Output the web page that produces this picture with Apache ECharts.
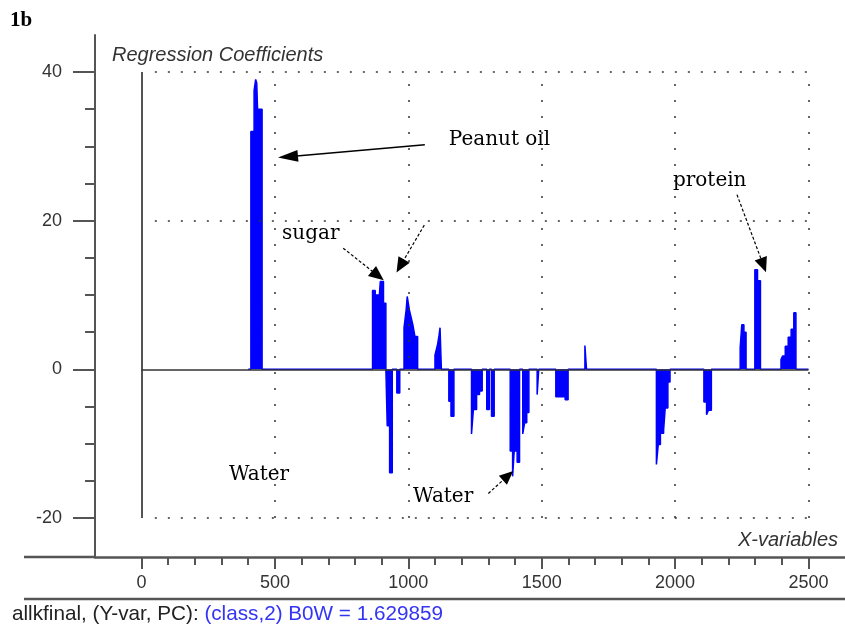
<!DOCTYPE html>
<html>
<head>
<meta charset="utf-8">
<script src="https://cdn.jsdelivr.net/npm/echarts@6/dist/echarts.min.js"></script>
<style>
  html, body { margin: 0; padding: 0; background: #fff; }
  #chart { width: 845px; height: 628px; }
</style>
</head>
<body>
<div id="chart"></div>
<script>
// regression coefficients per x-variable ([x, coef])
const baseStart = [[400, 0]]
const peanutBand = [[410, 0], [410, 32], [422, 32], [422, 37.5], [428, 39], [432, 38.5], [435, 35], [452, 35], [452, 0]]
const sugarBand = [[866, 0], [866, 10.6], [876, 10.6], [876, 10], [890, 10], [890, 9.1], [895, 9.1], [895, 11.8], [907, 11.8], [907, 8.9], [916, 8.9], [916, 0]]
const negBand1 = [[921, 0], [921, -7.6], [930, -7.6], [930, -13.9], [940, -13.9], [940, 0], [957, 0], [957, -3.2], [968, -3.2], [968, 0]]
const posBand2 = [[984, 0], [984, 5.6], [990, 5.6], [992, 8], [996, 9.8], [1000, 9.6], [1004, 8], [1010, 7.1], [1017, 6], [1025, 4.4], [1035, 4.4], [1035, 0]]
const posBand3 = [[1100, 0], [1100, 1.9], [1106, 1.9], [1110, 3.4], [1115, 4.5], [1119, 5.6], [1124, 5.6], [1124, 0]]
const negBand2 = [[1152, 0], [1152, -4.3], [1160, -4.3], [1160, -6.3], [1171, -6.3], [1171, 0]]
const negBand3 = [[1237, 0], [1237, -8.7], [1244, -8.7], [1244, -5.4], [1256, -5.4], [1256, -3.4], [1267, -3.4], [1267, -2.9], [1277, -2.9], [1277, 0],
  [1294, 0], [1294, -5.4], [1304, -5.4], [1304, 0], [1312, 0], [1312, -6.3], [1322, -6.3], [1322, 0]]
const waterBand = [[1382, 0], [1382, -11], [1391, -11], [1391, -14.4], [1397, -14.4], [1397, -11], [1408, -11], [1408, -12.5], [1417, -12.5], [1417, 0],
  [1429, 0], [1429, -8.7], [1436, -8.7], [1436, -7.2], [1444, -7.2], [1444, -5.8], [1452, -5.8], [1452, 0]]
const negBand4 = [[1483, 0], [1483, -3.4], [1489, -3.4], [1489, 0], [1553, 0], [1553, -3.7], [1588, -3.7], [1588, -4.1], [1599, -4.1], [1599, 0]]
const posBand4 = [[1662, 0], [1662, 3.2], [1668, 3.2], [1668, 0]]
const negBand5 = [[1930, 0], [1930, -12.8], [1937, -12.8], [1937, -10.1], [1945, -10.1], [1945, -8.6], [1957, -8.6], [1957, -8.2], [1963, -8.2], [1963, -5.2], [1973, -5.2], [1973, -1.7], [1981, -1.7], [1981, 0]]
const negBand6 = [[2108, 0], [2108, -4.4], [2118, -4.4], [2118, -6.1], [2125, -6.1], [2125, -5.5], [2136, -5.5], [2136, 0]]
const posBand5 = [[2244, 0], [2244, 2.9], [2250, 2.9], [2250, 6], [2258, 6], [2258, 5], [2266, 5], [2266, 0]]
const proteinBand = [[2299, 0], [2299, 13.4], [2309, 13.4], [2309, 11.9], [2320, 11.9], [2320, 0]]
const posBand6 = [[2397, 0], [2397, 1.3], [2403, 1.3], [2403, 1.8], [2413, 1.8], [2413, 3.1], [2424, 3.1], [2424, 4.3], [2435, 4.3], [2435, 5.4], [2445, 5.4], [2445, 7.6], [2453, 7.6], [2453, 0]]
const baseEnd = [[2500, 0]]

const xMajorTicks = [0, 500, 1000, 1500, 2000, 2500]
const xMinorTicks = [100, 200, 300, 400, 600, 700, 800, 900, 1100, 1200, 1300, 1400, 1600, 1700, 1800, 1900, 2100, 2200, 2300, 2400]
const yMajorTicks = [-20, 0, 20, 40]
const yMinorTicks = [-15, -10, -5, 5, 10, 15, 25, 30, 35]

const coefData = [].concat(baseStart, peanutBand, sugarBand, negBand1, posBand2, posBand3, negBand2, negBand3,
  waterBand, negBand4, posBand4, negBand5, negBand6, posBand5, proteinBand, posBand6, baseEnd)

const axisColor = '#555'
const tickFont = 'Liberation Sans, sans-serif'
const serif = 'DejaVu Serif, serif'

const dotH = { color: '#333', width: 1.5, type: [2, 11] }
const dotV = { color: '#333', width: 1.5, type: [2, 14] }

const guideLines = [
  [{ coord: [50, 40], lineStyle: dotH }, { coord: [2500, 40] }],
  [{ coord: [50, 20], lineStyle: dotH }, { coord: [2500, 20] }],
  [{ coord: [50, -20], lineStyle: dotH }, { coord: [2500, -20] }],
  [{ coord: [500, -20], lineStyle: dotV }, { coord: [500, 40] }],
  [{ coord: [1000, -20], lineStyle: dotV }, { coord: [1000, 40] }],
  [{ coord: [1500, -20], lineStyle: dotV }, { coord: [1500, 40] }],
  [{ coord: [2000, -20], lineStyle: dotV }, { coord: [2000, 40] }],
  [{ coord: [2500, -20], lineStyle: dotV }, { coord: [2500, 40] }],
  [{ coord: [0, -20], lineStyle: { color: axisColor, width: 2, type: 'solid' } }, { coord: [0, 40] }],
  [{ coord: [0, 0], lineStyle: { color: '#333', width: 1.5, type: 'solid' } }, { coord: [2500, 0] }],
]

const arrowSolid = { color: '#000', width: 1.5, type: 'solid' }
const arrowDash = { color: '#000', width: 1.2, type: [3, 2] }
const arrows = [
  [{ coord: [1062, 30.2], symbol: 'none', lineStyle: arrowSolid }, { coord: [549, 28.6], symbol: 'triangle', symbolSize: [12, 20] }],
  [{ coord: [756, 16.3], symbol: 'none', lineStyle: arrowDash }, { coord: [886, 12.6], symbol: 'triangle', symbolSize: [13, 15] }],
  [{ coord: [1060, 19.4], symbol: 'none', lineStyle: arrowDash }, { coord: [970, 13.9], symbol: 'triangle', symbolSize: [13, 15] }],
  [{ coord: [2232, 23.5], symbol: 'none', lineStyle: arrowDash }, { coord: [2331, 14.0], symbol: 'triangle', symbolSize: [13, 15] }],
  [{ coord: [1300, -16.7], symbol: 'none', lineStyle: arrowDash }, { coord: [1374, -14.3], symbol: 'triangle', symbolSize: [12, 14] }],
]

const notes = [
  { name: 'Peanut oil', coord: [1152, 30.9] },
  { name: 'sugar', coord: [527, 18.3] },
  { name: 'protein', coord: [1992, 25.3] },
  { name: 'Water', coord: [328, -14.2] },
  { name: 'Water', coord: [1018, -17.2] },
]

const chart = echarts.init(document.getElementById('chart'))

chart.setOption({
  animation: false,
  grid: { left: 95, right: 0, top: 35, bottom: 71 },
  xAxis: [
    {
      type: 'value', min: -174.3, max: 2636.9,
      axisLine: { onZero: false, lineStyle: { color: axisColor, width: 2.5 } },
      axisTick: { customValues: xMajorTicks, length: 12, lineStyle: { color: axisColor, width: 2 } },
      axisLabel: { customValues: xMajorTicks, margin: 17, color: '#333', fontFamily: tickFont, fontSize: 18, formatter: (v) => String(v) },
      splitLine: { show: false },
    },
    {
      type: 'value', min: -174.3, max: 2636.9, position: 'bottom',
      axisLine: { show: false, onZero: false },
      axisTick: { customValues: xMinorTicks, length: 8, lineStyle: { color: axisColor, width: 2 } },
      axisLabel: { show: false },
      splitLine: { show: false },
    },
  ],
  yAxis: [
    {
      type: 'value', min: -25.25, max: 44.98,
      axisLine: { onZero: false, lineStyle: { color: axisColor, width: 2 } },
      axisTick: { customValues: yMajorTicks, length: 22, lineStyle: { color: axisColor, width: 2 } },
      axisLabel: { customValues: yMajorTicks, margin: 33, color: '#333', fontFamily: tickFont, fontSize: 18, formatter: (v) => String(v) },
      splitLine: { show: false },
    },
    {
      type: 'value', min: -25.25, max: 44.98, position: 'left',
      axisLine: { show: false, onZero: false },
      axisTick: { customValues: yMinorTicks, length: 10, lineStyle: { color: axisColor, width: 2 } },
      axisLabel: { show: false },
      splitLine: { show: false },
    },
  ],
  series: [
    {
      name: 'guides',
      type: 'line',
      data: [[0, 0]],
      showSymbol: false,
      lineStyle: { width: 0 },
      silent: true,
      z: 1,
      markLine: {
        silent: true,
        symbol: ['none', 'none'],
        label: { show: false },
        emphasis: { disabled: true },
        data: guideLines,
      },
    },
    {
      name: 'coef',
      type: 'line',
      data: coefData,
      showSymbol: false,
      color: '#0000ff',
      lineStyle: { color: '#0000ff', width: 1.5 },
      areaStyle: { color: '#0000ff', opacity: 1 },
      emphasis: { disabled: true },
      silent: true,
      z: 3,
    },
    {
      name: 'notes',
      type: 'line',
      data: [[0, 0]],
      showSymbol: false,
      lineStyle: { width: 0 },
      silent: true,
      z: 4,
      markLine: {
        silent: true,
        label: { show: false },
        emphasis: { disabled: true },
        itemStyle: { color: '#000' },
        data: arrows,
      },
      markPoint: {
        silent: true,
        symbol: 'rect',
        symbolSize: 0,
        label: { show: true, position: 'right', distance: 0, formatter: '{b}', color: '#000', fontFamily: serif, fontSize: 20 },
        data: notes,
      },
    },
  ],
  graphic: [
    { type: 'text', left: 10, top: 10, style: { text: '1b', font: 'bold 21px Liberation Serif, serif', fill: '#000' } },
    { type: 'text', x: 112, y: 55, style: { text: 'Regression Coefficients', font: 'italic 20px Liberation Sans, sans-serif', fill: '#333', verticalAlign: 'middle' } },
    { type: 'text', x: 838, y: 540, style: { text: 'X-variables', font: 'italic 20px Liberation Sans, sans-serif', fill: '#333', align: 'right', verticalAlign: 'middle' } },
    { type: 'line', shape: { x1: 24, y1: 557, x2: 96, y2: 557 }, style: { stroke: axisColor, lineWidth: 2.5 } },
    { type: 'line', shape: { x1: 24, y1: 599, x2: 845, y2: 599 }, style: { stroke: axisColor, lineWidth: 2.5 } },
    {
      type: 'text', x: 12, y: 614,
      style: {
        text: '{a|allkfinal, (Y-var, PC): }{b|(class,2) B0W = 1.629859}',
        verticalAlign: 'middle',
        rich: {
          a: { fill: '#222', font: '20.7px Liberation Sans, sans-serif' },
          b: { fill: '#3434f4', font: '20.7px Liberation Sans, sans-serif' },
        },
      },
    },
  ],
})
</script>
</body>
</html>
